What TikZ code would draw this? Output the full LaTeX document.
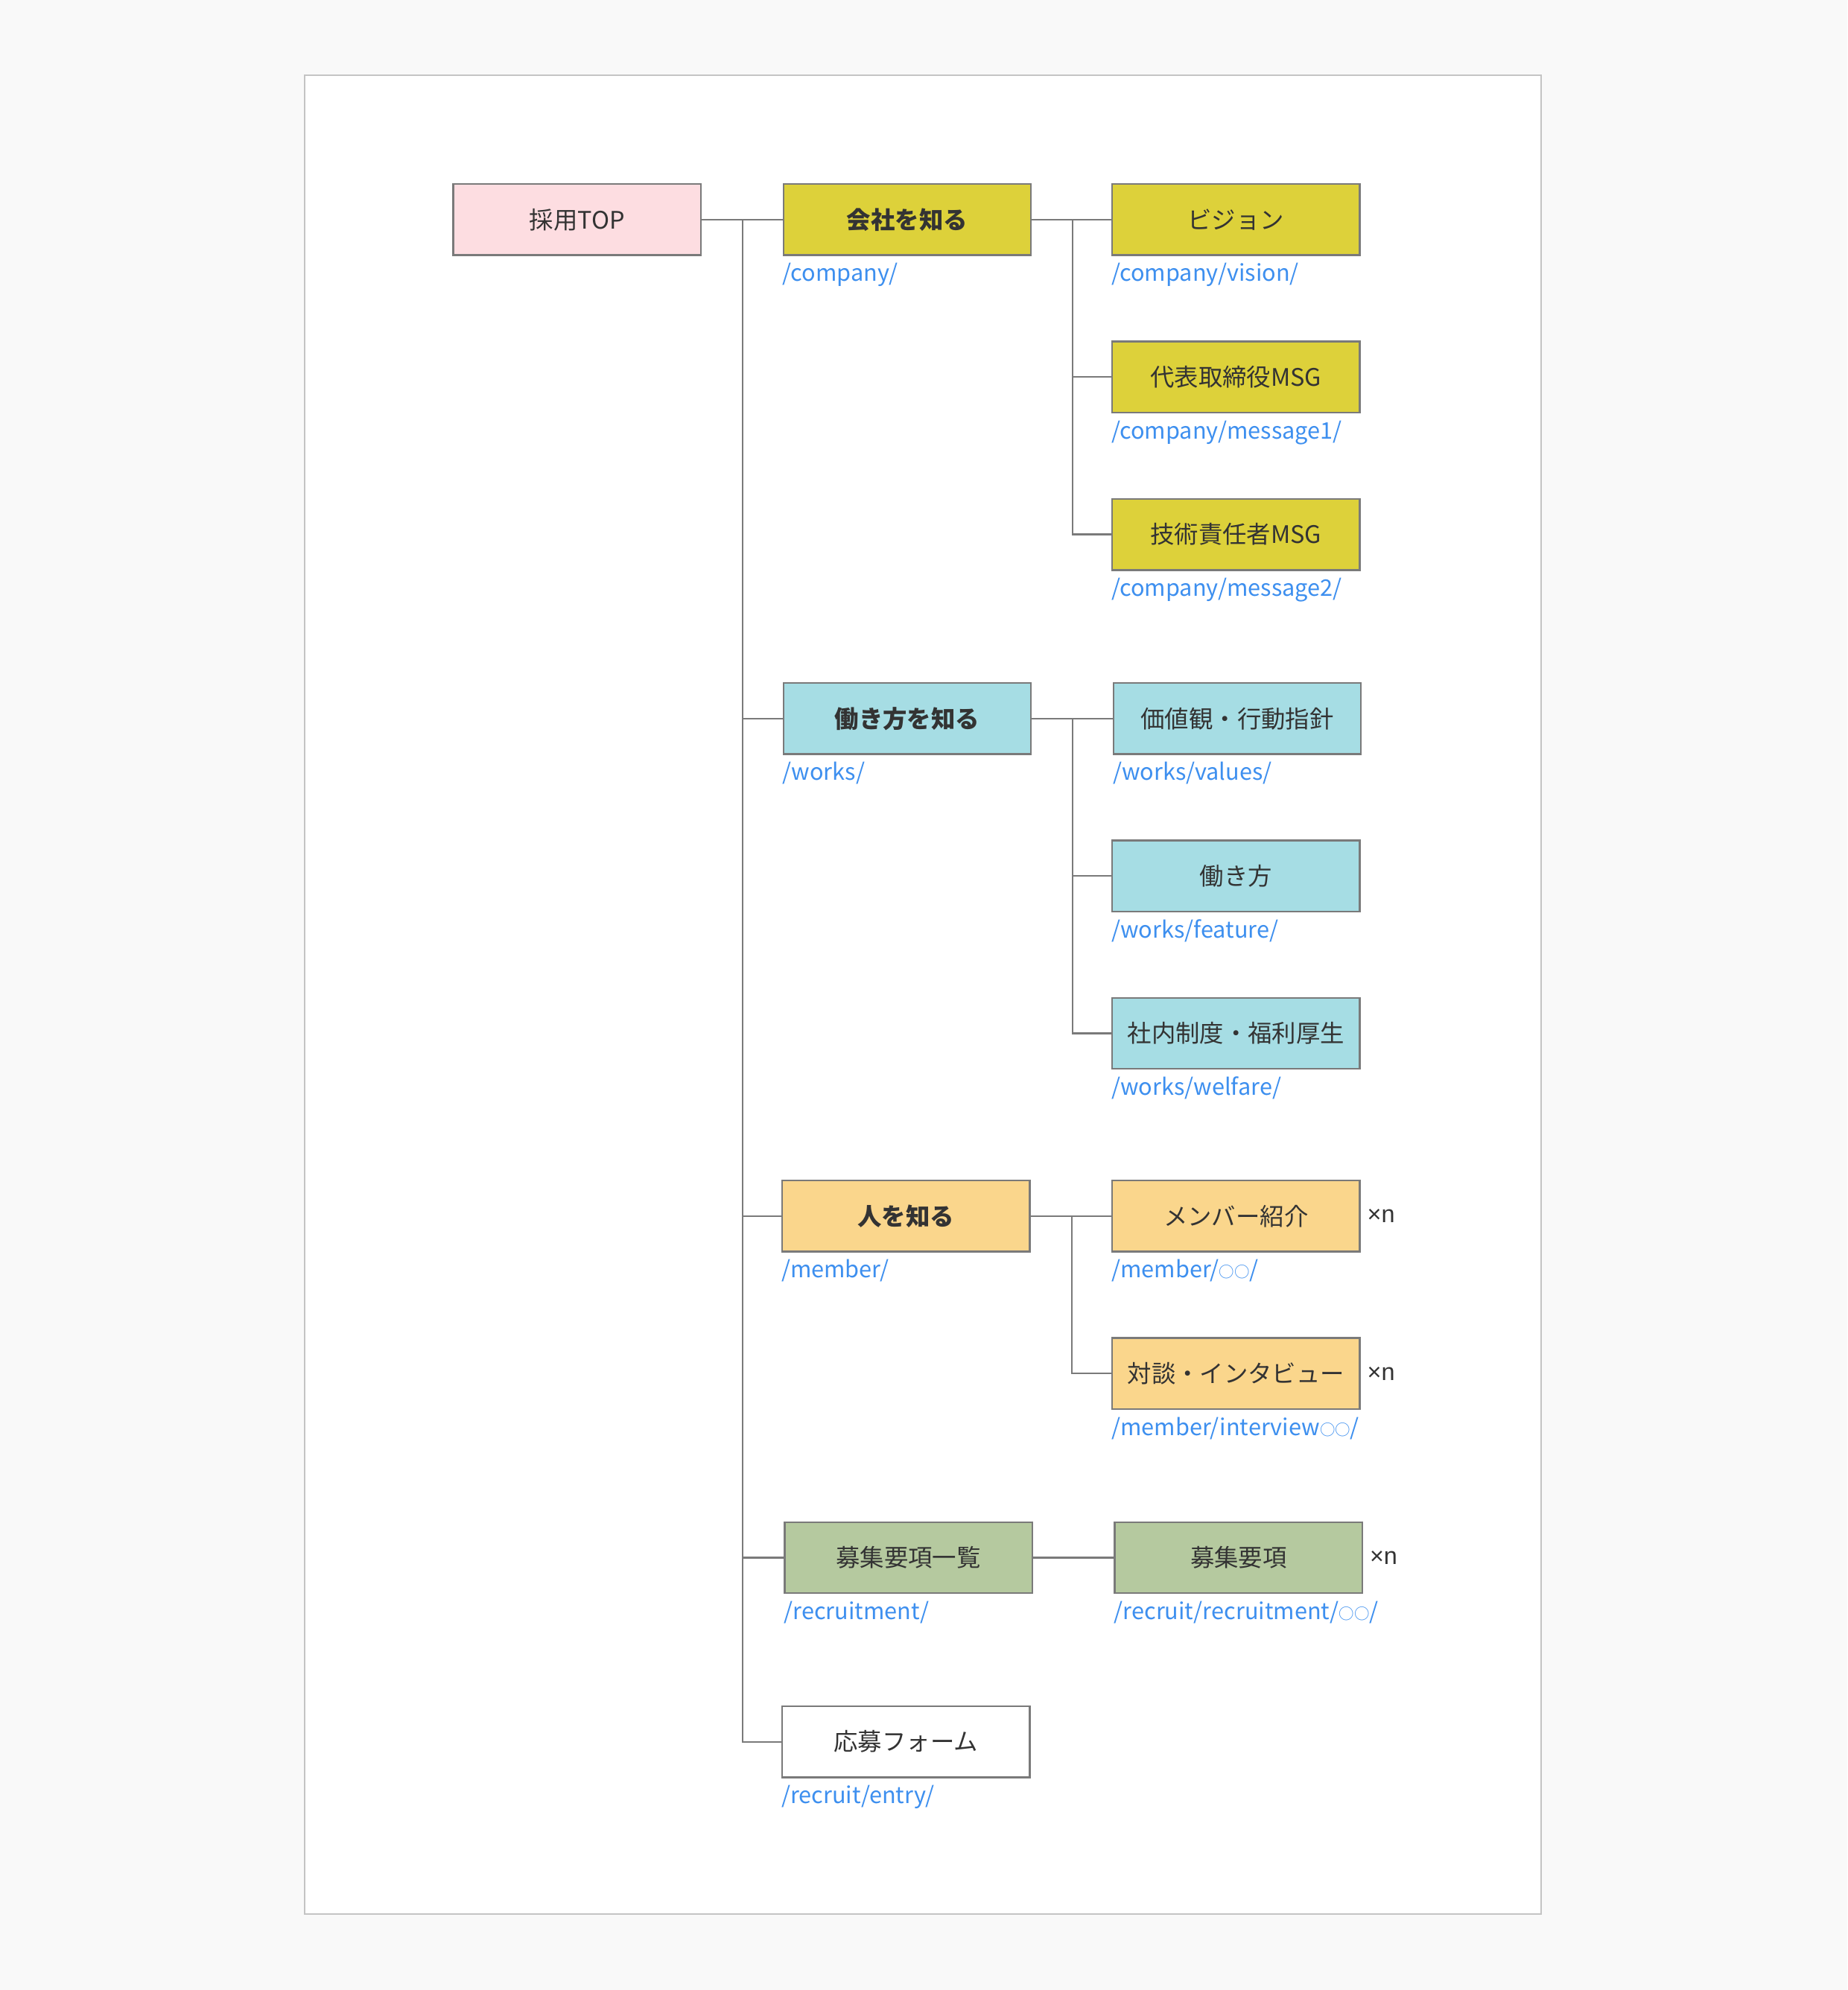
\documentclass[tikz,border=0pt]{standalone}
\usepackage{fontspec}
\setmainfont{Noto Sans CJK JP}
\newfontfamily\latinfont{Liberation Sans}
\newcommand{\smallcirc}{{\fontsize{12}{12}\selectfont ○}}
\definecolor{bgout}{HTML}{F9F9F9}
\definecolor{panelline}{HTML}{C4C4C4}
\definecolor{boxline}{HTML}{7A7A7A}
\definecolor{txt}{HTML}{333333}
\definecolor{url}{HTML}{3D8FEF}
\definecolor{cpink}{HTML}{FDDDE1}
\definecolor{cyel}{HTML}{DDD13A}
\definecolor{ccyan}{HTML}{A6DDE4}
\definecolor{corange}{HTML}{FAD68C}
\definecolor{cgreen}{HTML}{B5C99F}
\tikzset{
  pagebox/.style={draw=boxline, line width=1.4pt, minimum width=195pt, minimum height=56pt,
    inner sep=0pt, text=txt, font=\fontsize{19}{23}\selectfont},
  headbox/.style={pagebox, font=\fontsize{19}{23}\selectfont\bfseries},
  urltext/.style={anchor=base west, inner sep=0pt, text=url, font=\fontsize{18}{22}\selectfont},
  mult/.style={anchor=west, inner sep=0pt, text=txt, font=\fontsize{19}{23}\selectfont\latinfont},
  link/.style={draw=boxline, line width=1.3pt},
}
\begin{document}
\begin{tikzpicture}[x=1pt, y=-1pt]
\fill[bgout] (0,0) rectangle (1455,1567.6);
\useasboundingbox (0,0) rectangle (1455,1567.6);
\draw[panelline, fill=white, line width=1.2pt] (240,59) rectangle (1214,1508);

% root
\node[pagebox, fill=cpink] (root) at (454.5,173) {採用TOP};

% level 1
\node[headbox, fill=cyel] (company) at (714.5,173) {会社を知る};
\node[headbox, fill=ccyan] (works) at (714.5,566) {働き方を知る};
\node[headbox, fill=corange] (member) at (713.5,958) {人を知る};
\node[pagebox, fill=cgreen] (recruit) at (715.5,1227) {募集要項一覧};
\node[pagebox, fill=white] (entry) at (713.5,1372) {応募フォーム};

% level 2
\node[pagebox, fill=cyel] (vision) at (973.5,173) {ビジョン};
\node[pagebox, fill=cyel] (msg1) at (973.5,297) {代表取締役MSG};
\node[pagebox, fill=cyel] (msg2) at (973.5,421) {技術責任者MSG};
\node[pagebox, fill=ccyan] (values) at (974.5,566) {価値観・行動指針};
\node[pagebox, fill=ccyan] (feature) at (973.5,690) {働き方};
\node[pagebox, fill=ccyan] (welfare) at (973.5,814) {社内制度・福利厚生};
\node[pagebox, fill=corange] (memintro) at (973.5,958) {メンバー紹介};
\node[pagebox, fill=corange] (interview) at (973.5,1082) {対談・インタビュー};
\node[pagebox, fill=cgreen] (recdetail) at (975.5,1227) {募集要項};

% url labels
\foreach \n/\u in {company/{/company/}, works/{/works/}, member/{/member/},
  recruit/{/recruitment/}, entry/{/recruit/entry/},
  vision/{/company/vision/}, msg1/{/company/message1/}, msg2/{/company/message2/},
  values/{/works/values/}, feature/{/works/feature/}, welfare/{/works/welfare/},
  memintro/{/member/\smallcirc\smallcirc/}, interview/{/member/interview\smallcirc\smallcirc/},
  recdetail/{/recruit/recruitment/\smallcirc\smallcirc/}}
  \node[urltext] (url-\n) at ([yshift=-20pt]\n.south west) {\u};

% multiplicity marks
\node[mult] (xn1) at ([xshift=5pt]memintro.east) {×n};
\node[mult] (xn2) at ([xshift=5pt]interview.east) {×n};
\node[mult] (xn3) at ([xshift=5pt]recdetail.east) {×n};

% junction coordinates
\coordinate (trunk) at (585,173);
\coordinate (bc) at (845,173);
\coordinate (bw) at (845,566);
\coordinate (bm) at (844,958);

% connectors
\draw[link] (root.east) -- (company.west);
\draw[link] (trunk) |- (works.west);
\draw[link] (trunk) |- (member.west);
\draw[link] (trunk) |- (recruit.west);
\draw[link] (trunk) |- (entry.west);

\draw[link] (company.east) -- (vision.west);
\draw[link] (bc) |- (msg1.west);
\draw[link] (bc) |- (msg2.west);

\draw[link] (works.east) -- (values.west);
\draw[link] (bw) |- (feature.west);
\draw[link] (bw) |- (welfare.west);

\draw[link] (member.east) -- (memintro.west);
\draw[link] (bm) |- (interview.west);

\draw[link] (recruit.east) -- (recdetail.west);
\end{tikzpicture}
\end{document}
